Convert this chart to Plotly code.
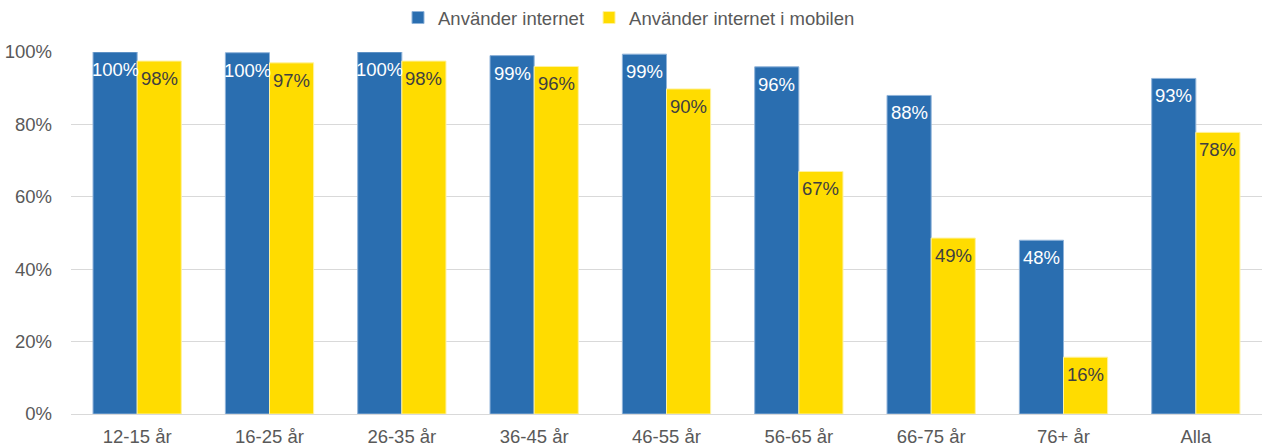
import plotly.graph_objects as go

categories = ["12-15 år", "16-25 år", "26-35 år", "36-45 år", "46-55 år", "56-65 år", "66-75 år", "76+ år", "Alla"]
internet = [100, 99.8, 100, 99, 99.4, 95.9, 88, 48, 92.7]
mobil = [97.5, 97, 97.5, 96, 89.8, 67, 48.6, 15.7, 77.8]
internet_labels = ["100%", "100%", "100%", "99%", "99%", "96%", "88%", "48%", "93%"]
mobil_labels = ["98%", "97%", "98%", "96%", "90%", "67%", "49%", "16%", "78%"]

FONT = "Liberation Sans, Arial, sans-serif"
FS = 18.5

fig = go.Figure()
fig.add_trace(go.Bar(
    name="Använder internet", x=categories, y=internet,
    marker=dict(color="#2a6eb0", line=dict(color="#8fb3d9", width=1)),
))
fig.add_trace(go.Bar(
    name="Använder internet i mobilen", x=categories, y=mobil,
    marker=dict(color="#ffdc00", line=dict(color="#fff2a0", width=1)),
))

annotations = []
for cat, v, lab in zip(categories, internet, internet_labels):
    annotations.append(dict(x=cat, y=v, xref="x", yref="y", text=lab, showarrow=False,
                            xshift=-22, yanchor="top", yshift=-5,
                            font=dict(color="white", size=FS, family=FONT)))
for cat, v, lab in zip(categories, mobil, mobil_labels):
    annotations.append(dict(x=cat, y=v, xref="x", yref="y", text=lab, showarrow=False,
                            xshift=22, yanchor="top", yshift=-5,
                            font=dict(color="#404040", size=FS, family=FONT)))

fig.update_layout(
    width=1266, height=447,
    margin=dict(l=71, r=4, t=52, b=33, autoexpand=False),
    paper_bgcolor="white", plot_bgcolor="white",
    barmode="group", bargap=0.333, bargroupgap=0,
    font=dict(family=FONT, size=FS, color="#595959"),
    annotations=annotations,
    legend=dict(orientation="h", xref="container", yref="container",
                x=398 / 1266, xanchor="left", y=1 - 18 / 447, yanchor="middle",
                font=dict(size=FS, color="#595959"), traceorder="normal",
                borderwidth=0, bgcolor="rgba(0,0,0,0)"),
    xaxis=dict(showline=True, linecolor="#d9d9d9", linewidth=1, ticks="",
               automargin=False, tickfont=dict(size=FS, color="#595959"),
               ticklabelstandoff=6),
    yaxis=dict(range=[0, 100], dtick=20, ticksuffix="%", showgrid=True,
               gridcolor="#d9d9d9", gridwidth=1, zeroline=False, automargin=False,
               tickfont=dict(size=FS, color="#595959"), ticklabelstandoff=18),
)

fig.write_html("out.html", config={"displayModeBar": False},
               post_script="document.body.style.margin='0';")
